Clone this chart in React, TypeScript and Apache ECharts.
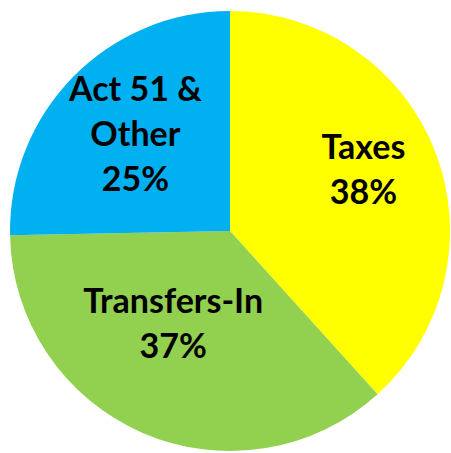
import React, { useEffect, useRef } from "react";
import * as echarts from "echarts";

const categories = ["Taxes", "Transfers-In", "Act 51 &\nOther"];
const values = [38.3, 36.4, 25.3];
const percentLabels = ["38%", "37%", "25%"];
const colors = ["#FFFF00", "#92D050", "#00B0F0"];
const labelShift = [
  [28, -22],
  [-12, -13],
  [-14, -19],
];

export default function App() {
  const ref = useRef<HTMLDivElement>(null);
  useEffect(() => {
    if (!ref.current) return;
    const chart = echarts.init(ref.current, null, { renderer: "svg" });
    chart.setOption({
      animation: false,
      backgroundColor: "#FFFFFF",
      series: [
        {
          type: "pie",
          center: [230, 231],
          radius: [0, 220],
          startAngle: 90,
          clockwise: true,
          avoidLabelOverlap: false,
          itemStyle: { borderWidth: 0 },
          label: {
            show: true,
            position: "inside",
            color: "#000000",
            fontFamily: "Lato",
            fontWeight: "bold",
            fontSize: 34,
            lineHeight: 45,
            align: "center",
            formatter: (p: any) => `${categories[p.dataIndex]}\n${percentLabels[p.dataIndex]}`,
          },
          labelLine: { show: false },
          labelLayout: (p: any) => ({ dx: labelShift[p.dataIndex][0], dy: labelShift[p.dataIndex][1] }),
          emphasis: { disabled: true },
          data: categories.map((c, i) => ({
            name: c,
            value: values[i],
            itemStyle: { color: colors[i] },
          })),
        },
      ],
    });
    return () => chart.dispose();
  }, []);
  return (
    <div
      ref={ref}
      style={{ position: "fixed", left: 0, top: 0, width: 451, height: 453 }}
    />
  );
}
